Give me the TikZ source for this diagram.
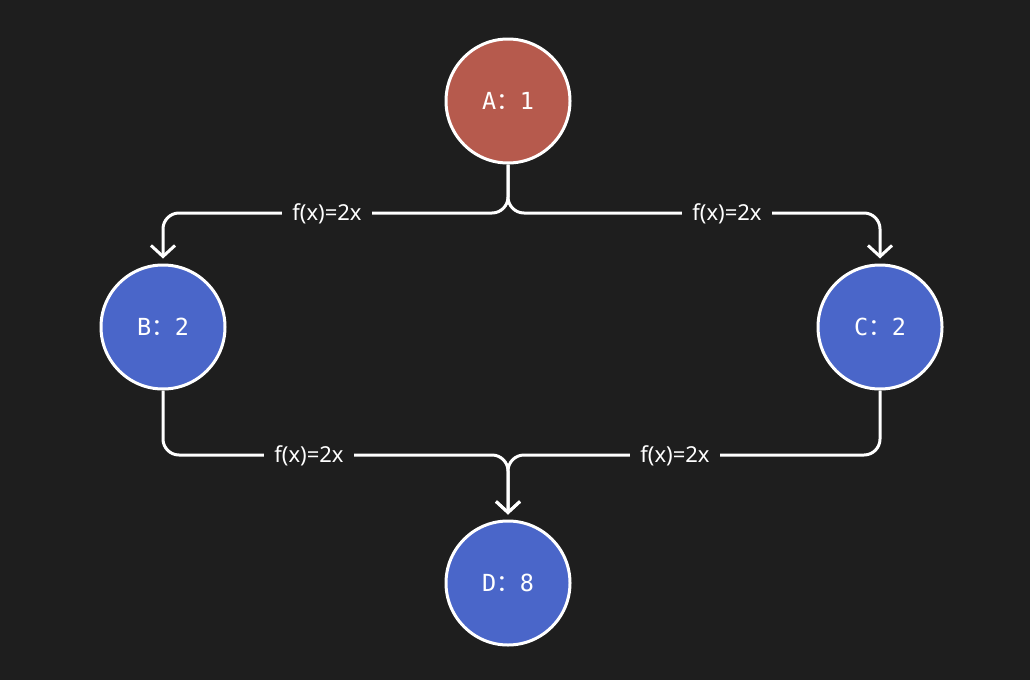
\documentclass[tikz,border=0pt]{standalone}
\usepackage{fontspec}
\setmainfont{Noto Sans}
\newfontfamily\cjk{Noto Sans CJK SC}
\newfontfamily\mono{DejaVu Sans Mono}
\usetikzlibrary{arrows.meta}
\definecolor{bg}{HTML}{1E1E1E}
\definecolor{redfill}{HTML}{B65A4D}
\definecolor{bluefill}{HTML}{4A66C9}
\newcommand{\val}[2]{{\mono #1}{\cjk ：}{\mono #2}}
\tikzset{
  state/.style={circle, draw=white, line width=3pt, minimum size=124pt,
    inner sep=0pt, text=white, font=\fontsize{23.5}{28}\selectfont},
  conn/.style={draw=white, line width=3pt, rounded corners=16pt,
    -{Straight Barb[length=11pt, width=24pt, line width=3pt]}, shorten >=5pt},
  lbl/.style={fill=bg, text=white, inner xsep=10pt, inner ysep=4pt,
    font=\fontsize{22}{26}\selectfont}
}
\begin{document}
\begin{tikzpicture}[x=1pt, y=-1pt]
  \fill[bg] (0,0) rectangle (1030,680);
  \useasboundingbox (0,0) rectangle (1030,680);

  % states
  \node[state, fill=redfill]  (A) at (508,101) {\val{A}{1}};
  \node[state, fill=bluefill] (B) at (163,327) {\val{B}{2}};
  \node[state, fill=bluefill] (C) at (880,327) {\val{C}{2}};
  \node[state, fill=bluefill] (D) at (508,583) {\val{D}{8}};

  % bend points of the connectors
  \coordinate (ab) at (163,213);
  \coordinate (ac) at (880,213);
  \coordinate (bd) at (508,455);

  % transitions
  \draw[conn] (A.south) |- (ab) -- (B.north);
  \draw[conn] (A.south) |- (ac) -- (C.north);
  \draw[conn] (B.south) |- (bd) -- (D.north);
  \draw[conn] (C.south) |- (bd) -- (D.north);

  % transition labels
  \node[lbl] (l1) at (327,214) {f(x)=2x};
  \node[lbl] (l2) at (727,214) {f(x)=2x};
  \node[lbl] (l3) at (309,456) {f(x)=2x};
  \node[lbl] (l4) at (675,456) {f(x)=2x};
\end{tikzpicture}
\end{document}
